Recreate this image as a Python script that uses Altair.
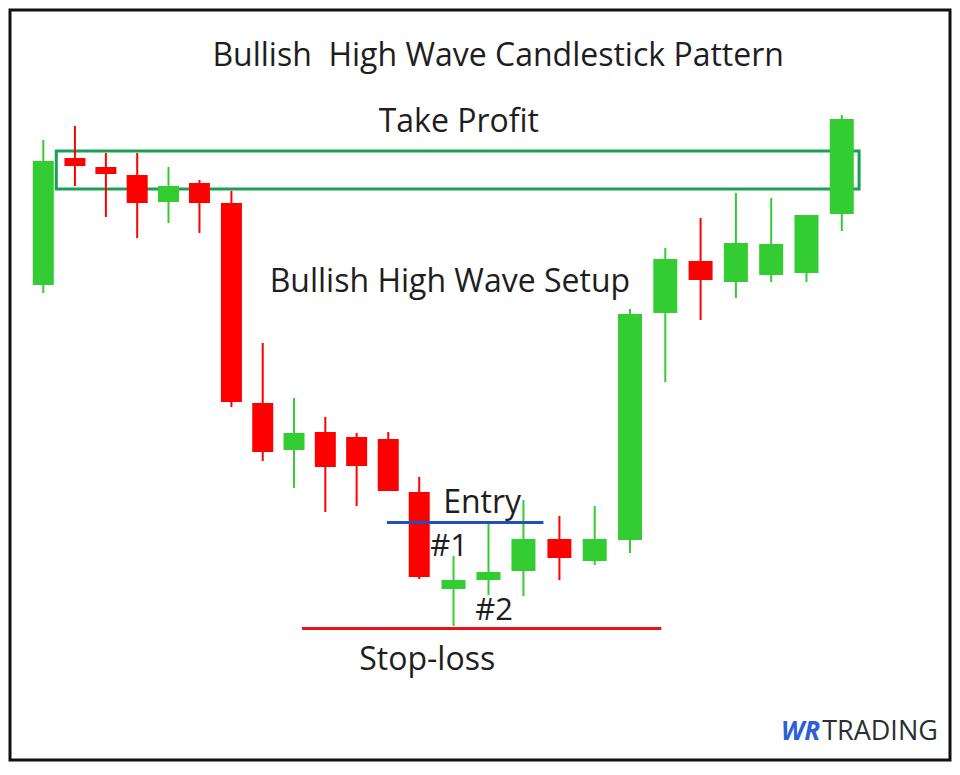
import altair as alt
import pandas as pd

# ---- data (price units, time slots) ----
t_slot = [1.0, 1.95, 2.88, 3.82, 4.76, 5.69, 6.65, 7.59, 8.53, 9.47, 10.41, 11.36, 12.29,
          13.32, 14.37, 15.42, 16.50, 17.56, 18.62, 19.68, 20.74, 21.80, 22.86, 23.92, 24.98]
open_ = [95.0, 120.4, 118.6, 117.0, 111.6, 115.4, 111.4, 71.4, 62.0, 65.6, 64.6, 64.2, 53.6,
         34.2, 36.0, 37.8, 44.2, 39.8, 44.0, 89.4, 99.8, 95.6, 97.0, 97.4, 109.2]
close = [119.8, 118.8, 117.2, 111.4, 114.8, 111.4, 71.6, 61.6, 65.4, 58.6, 58.8, 53.8, 36.6,
         36.0, 37.6, 44.2, 40.4, 44.2, 89.2, 100.2, 96.0, 103.4, 103.2, 109.0, 128.2]
high = [124.0, 126.8, 121.4, 121.4, 118.6, 116.0, 113.8, 83.4, 72.4, 68.6, 65.4, 65.6, 56.6,
        40.8, 47.2, 52.0, 48.8, 50.8, 90.2, 102.4, 108.4, 113.4, 112.4, 109.0, 129.0]
low = [93.4, 114.8, 108.6, 104.4, 107.4, 105.4, 70.6, 59.8, 54.4, 49.6, 50.8, 53.8, 36.2,
       26.8, 33.0, 32.8, 36.0, 39.0, 41.4, 75.6, 88.0, 92.4, 95.6, 95.6, 105.8]

# take-profit zone, entry and stop-loss levels
tp_start, tp_end = 1.39, 25.5
tp_low, tp_high = 114.2, 121.8
entry_start, entry_end, entry_price = 11.32, 16.02, 47.5
stop_start, stop_end, stop_price = 8.77, 19.56, 26.3

# annotations
ann_text = ["Bullish\u00a0 High Wave Candlestick Pattern", "Take Profit", "Bullish High Wave Setup",
            "Entry", "#1", "#2", "Stop-loss"]
ann_t = [14.66, 13.48, 13.21, 14.18, 13.19, 14.54, 12.53]
ann_p = [138.8, 125.66, 93.66, 49.4, 40.8, 28.0, 18.0]
ann_size = [32, 32, 32, 32, 31, 31, 32]

logo_t = [24.33, 24.39]
logo_p = [4.0, 4.0]

df = pd.DataFrame({"t": t_slot, "open": open_, "close": close, "high": high, "low": low})
df["dir"] = ["up" if c >= o else "down" for o, c in zip(open_, close)]

xs = alt.Scale(domain=[0, 28.23], nice=False, zero=False, padding=0)
ys = alt.Scale(domain=[0, 150], nice=False, zero=False, padding=0)
color = alt.Color("dir:N", scale=alt.Scale(domain=["up", "down"], range=["#33cc33", "#ff0000"]), legend=None)

base = alt.Chart(df)
wicks = base.mark_rule(strokeWidth=2).encode(
    x=alt.X("t:Q", scale=xs, axis=None),
    y=alt.Y("low:Q", scale=ys, axis=None),
    y2="high:Q",
    color=color,
)
bodies = base.mark_bar().encode(
    x=alt.X("t:Q", scale=xs, axis=None),
    y=alt.Y("open:Q", scale=ys, axis=None),
    y2="close:Q",
    color=color,
    size=alt.condition("datum.t > 13", alt.value(24), alt.value(21)),
)

tp_df = pd.DataFrame({"x1": [tp_start], "x2": [tp_end], "y1": [tp_low], "y2": [tp_high]})
tp_box = alt.Chart(tp_df).mark_rect(fillOpacity=0, stroke="#1a9f55", strokeWidth=3).encode(
    x=alt.X("x1:Q", scale=xs, axis=None), x2="x2:Q",
    y=alt.Y("y1:Q", scale=ys, axis=None), y2="y2:Q",
)

entry_line = alt.Chart(pd.DataFrame({"x1": [entry_start], "x2": [entry_end], "y": [entry_price]})).mark_rule(
    strokeWidth=3, color="#2050b8").encode(
    x=alt.X("x1:Q", scale=xs, axis=None), x2="x2:Q",
    y=alt.Y("y:Q", scale=ys, axis=None),
)
stop_line = alt.Chart(pd.DataFrame({"x1": [stop_start], "x2": [stop_end], "y": [stop_price]})).mark_rule(
    strokeWidth=3, color="#ee1111").encode(
    x=alt.X("x1:Q", scale=xs, axis=None), x2="x2:Q",
    y=alt.Y("y:Q", scale=ys, axis=None),
)

ann_df = pd.DataFrame({"text": ann_text, "t": ann_t, "p": ann_p, "s": ann_size})
texts = alt.Chart(ann_df).mark_text(font="Open Sans", align="center", baseline="alphabetic", color="#1e1e1e").encode(
    x=alt.X("t:Q", scale=xs, axis=None),
    y=alt.Y("p:Q", scale=ys, axis=None),
    text="text:N",
    size=alt.Size("s:Q", scale=None, legend=None),
)

logo_wr = alt.Chart(pd.DataFrame({"t": [logo_t[0]], "p": [logo_p[0]], "text": ["WR"]})).mark_text(
    font="Open Sans", fontSize=26, fontWeight="bold", fontStyle="italic", align="right",
    baseline="alphabetic", color="#2f5fd6",
).encode(x=alt.X("t:Q", scale=xs, axis=None), y=alt.Y("p:Q", scale=ys, axis=None), text="text:N")
logo_tr = alt.Chart(pd.DataFrame({"t": [logo_t[1]], "p": [logo_p[1]], "text": ["TRADING"]})).mark_text(
    font="Open Sans", fontSize=27, align="left", baseline="alphabetic", color="#2b2f33",
).encode(x=alt.X("t:Q", scale=xs, axis=None), y=alt.Y("p:Q", scale=ys, axis=None), text="text:N")

chart = alt.layer(tp_box, wicks, bodies, entry_line, stop_line, texts, logo_wr, logo_tr).properties(
    width=940, height=750, padding=2, background="white",
).configure_view(stroke="#111111", strokeWidth=3)

chart.save("out.html", embed_options={"renderer": "svg", "actions": False})
